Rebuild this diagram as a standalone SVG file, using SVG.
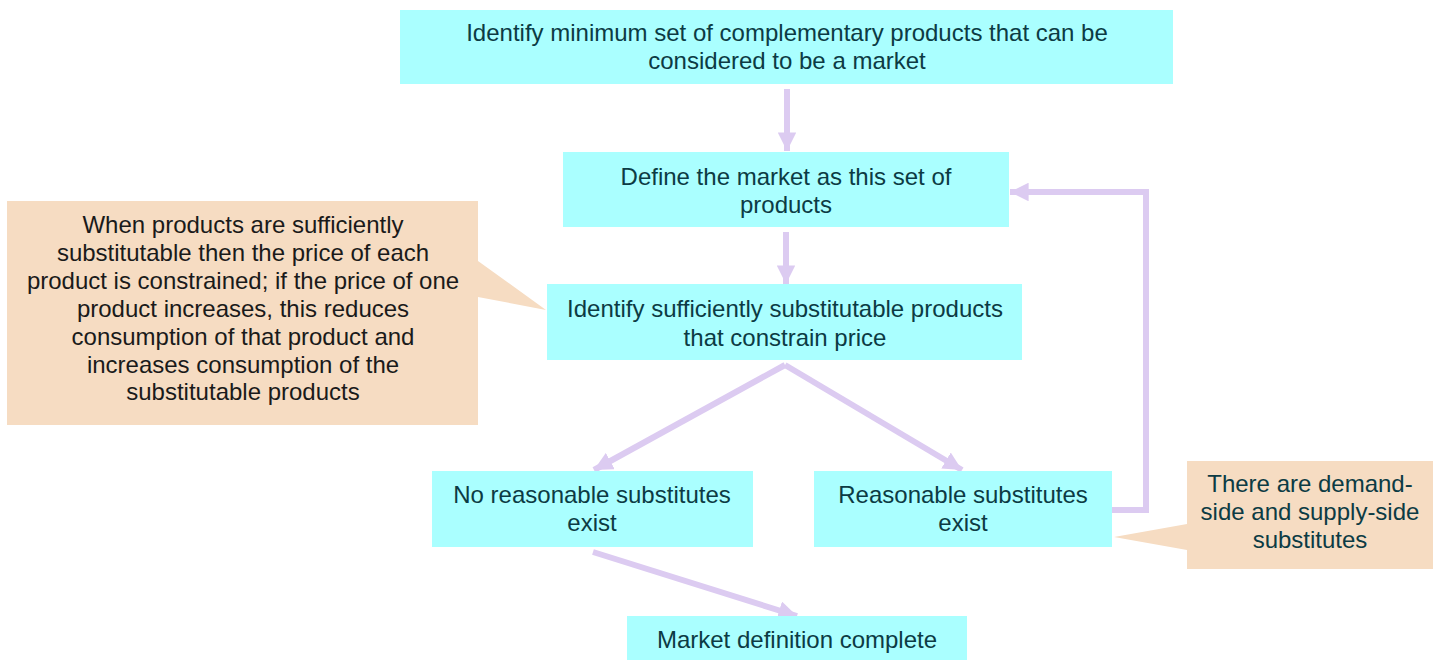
<svg xmlns="http://www.w3.org/2000/svg" width="1438" height="660" viewBox="0 0 1438 660">
  <defs>
    <style>
      .box { fill: #aaffff; }
      .note { fill: #f6dcc2; }
      .t { font-family: "Liberation Sans", Arial, sans-serif; font-size: 24px; text-anchor: middle; fill: #0c3b44; }
      .tn { font-family: "Liberation Sans", Arial, sans-serif; font-size: 24px; text-anchor: middle; fill: #1a1a1a; }
      .link { fill: none; stroke: #dccbf1; stroke-width: 6; }
    </style>
    <marker id="head" viewBox="0 0 10 10" refX="10" refY="5" markerWidth="3.1" markerHeight="3.1" orient="auto" markerUnits="strokeWidth">
      <path d="M0,0 L10,5 L0,10 Z" fill="#dccbf1"/>
    </marker>
  </defs>
  <rect width="1438" height="660" fill="#ffffff"/>

  <!-- connectors -->
  <g id="connectors">
    <line class="link" x1="787" y1="89" x2="787" y2="151" marker-end="url(#head)"/>
    <line class="link" x1="786" y1="232" x2="786" y2="284" marker-end="url(#head)"/>
    <path class="link" d="M785,365 L594,470" marker-end="url(#head)"/>
    <path class="link" d="M785,365 L962,470" marker-end="url(#head)"/>
    <path class="link" d="M1111,510 L1146,510 L1146,192 L1010,192" marker-end="url(#head)"/>
    <path class="link" d="M593,552 L797,616" marker-end="url(#head)"/>
  </g>

  <!-- nodes -->
  <g id="n-identify-min">
    <rect class="box" x="400" y="10" width="773" height="74"/>
    <text class="t" x="787" y="41">Identify minimum set of complementary products that can be</text>
    <text class="t" x="787" y="69">considered to be a market</text>
  </g>

  <g id="n-define">
    <rect class="box" x="563" y="152" width="446" height="75"/>
    <text class="t" x="786" y="185">Define the market as this set of</text>
    <text class="t" x="786" y="213">products</text>
  </g>

  <g id="n-identify-subs">
    <rect class="box" x="547" y="284" width="475" height="76"/>
    <text class="t" x="785" y="317">Identify sufficiently substitutable products</text>
    <text class="t" x="785" y="346">that constrain price</text>
  </g>

  <g id="n-no-subs">
    <rect class="box" x="432" y="471" width="321" height="76"/>
    <text class="t" x="592" y="503">No reasonable substitutes</text>
    <text class="t" x="592" y="531">exist</text>
  </g>

  <g id="n-subs">
    <rect class="box" x="814" y="471" width="298" height="76"/>
    <text class="t" x="963" y="503">Reasonable substitutes</text>
    <text class="t" x="963" y="531">exist</text>
  </g>

  <g id="n-complete">
    <rect class="box" x="627" y="616" width="340" height="44"/>
    <text class="t" x="797" y="648">Market definition complete</text>
  </g>

  <!-- callouts -->
  <g id="c-substitutable">
    <path class="note" d="M7,201 L478,201 L478,261 L546,310 L478,297 L478,425 L7,425 Z"/>
    <text class="tn" x="243" y="233">When products are sufficiently</text>
    <text class="tn" x="243" y="261">substitutable then the price of each</text>
    <text class="tn" x="243" y="289">product is constrained; if the price of one</text>
    <text class="tn" x="243" y="317">product increases, this reduces</text>
    <text class="tn" x="243" y="345">consumption of that product and</text>
    <text class="tn" x="243" y="373">increases consumption of the</text>
    <text class="tn" x="243" y="400">substitutable products</text>
  </g>

  <g id="c-demand-supply">
    <path class="note" d="M1187,461 L1433,461 L1433,569 L1187,569 L1187,550 L1114,537 L1187,524 Z"/>
    <text class="t" x="1310" y="492">There are demand-</text>
    <text class="t" x="1310" y="520">side and supply-side</text>
    <text class="t" x="1310" y="548">substitutes</text>
  </g>
</svg>
